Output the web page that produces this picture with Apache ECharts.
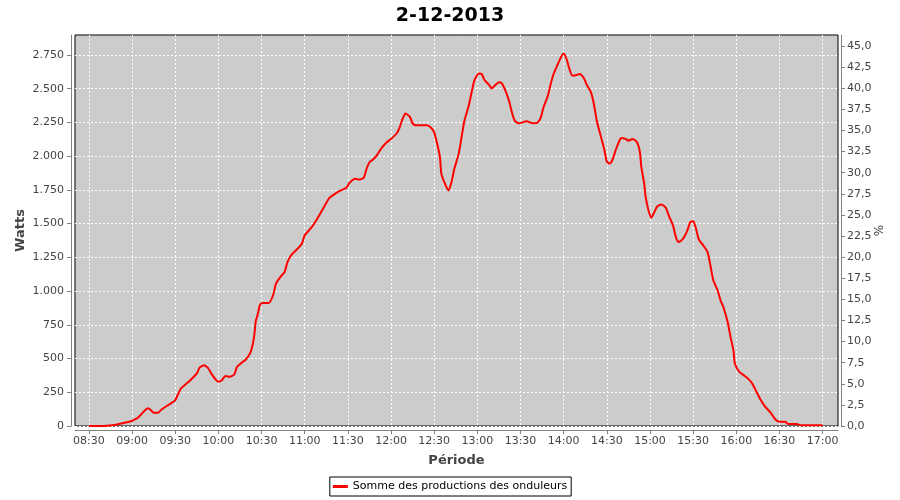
<!DOCTYPE html>
<html><head><meta charset="utf-8">
<script src="https://cdn.jsdelivr.net/npm/echarts@6/dist/echarts.min.js"></script>
<style>html,body{margin:0;padding:0;background:#fff}#c{width:900px;height:500px}</style>
</head><body><div id="c"></div>
<script>
const chartTitle = '2-12-2013';
const seriesName = 'Somme des productions des onduleurs';
const times = ['08:30','08:40','08:46','08:51','08:58','09:00','09:04','09:08','09:11','09:13','09:15','09:18','09:20','09:24','09:27','09:30','09:32','09:34','09:38','09:41','09:45','09:47','09:50','09:53','09:55','09:58','10:00','10:02','10:05','10:08','10:11','10:13','10:16','10:19','10:22','10:24','10:25','10:26','10:27','10:28','10:29','10:31','10:35','10:38','10:40','10:43','10:46','10:48','10:51','10:55','10:58','11:00','11:04','11:07','11:10','11:14','11:17','11:21','11:25','11:29','11:31','11:35','11:38','11:41','11:43','11:45','11:48','11:50','11:53','11:57','12:00','12:04','12:06','12:08','12:10','12:13','12:15','12:17','12:25','12:28','12:30','12:32','12:34','12:35','12:38','12:40','12:42','12:44','12:47','12:49','12:51','12:54','12:56','12:58','13:01','13:03','13:05','13:08','13:10','13:12','13:15','13:17','13:19','13:22','13:24','13:26','13:29','13:34','13:39','13:42','13:44','13:46','13:49','13:51','13:53','13:56','13:58','14:00','14:02','14:04','14:06','14:09','14:11','14:14','14:16','14:19','14:21','14:23','14:26','14:28','14:30','14:32','14:34','14:36','14:38','14:40','14:43','14:45','14:48','14:51','14:53','14:54','14:56','14:57','14:59','15:01','15:03','15:05','15:08','15:11','15:13','15:16','15:18','15:20','15:23','15:26','15:28','15:30','15:32','15:34','15:37','15:40','15:42','15:44','15:47','15:49','15:51','15:54','15:56','15:58','15:59','16:02','16:05','16:08','16:11','16:14','16:17','16:20','16:24','16:27','16:30','16:34','16:36','16:42','16:45','17:00'];
const watts = [0,0,5,15,32,39,61,106,131,118,98,98,118,148,168,192,237,279,316,345,390,434,451,427,390,345,328,335,370,365,382,439,468,493,538,612,680,780,815,860,900,912,912,969,1055,1104,1141,1215,1272,1314,1351,1413,1462,1507,1561,1635,1689,1721,1746,1766,1800,1832,1827,1840,1906,1955,1980,2004,2054,2103,2128,2170,2214,2276,2317,2293,2243,2229,2229,2209,2177,2095,1992,1869,1783,1746,1807,1906,2017,2140,2263,2374,2473,2564,2613,2609,2564,2530,2502,2522,2547,2539,2498,2411,2325,2263,2243,2258,2243,2250,2283,2362,2448,2535,2609,2683,2732,2761,2720,2646,2596,2601,2609,2579,2530,2473,2387,2263,2140,2060,1960,1945,1975,2040,2095,2135,2128,2115,2128,2103,2029,1918,1795,1696,1598,1544,1585,1627,1642,1618,1561,1487,1400,1363,1388,1450,1511,1519,1462,1381,1339,1289,1190,1080,1006,932,882,771,660,562,464,402,377,353,316,254,192,143,98,50,32,32,15,15,5,5];
const xTickLabels = ['08:30','09:00','09:30','10:00','10:30','11:00','11:30','12:00','12:30','13:00','13:30','14:00','14:30','15:00','15:30','16:00','16:30','17:00'];
const wattTicks = [0,250,500,750,1000,1250,1500,1750,2000,2250,2500,2750];
const pctTicks = [0,2.5,5,7.5,10,12.5,15,17.5,20,22.5,25,27.5,30,32.5,35,37.5,40,42.5,45];

const FONT = 'DejaVu Sans';
const toMin = s => { const p = s.split(':'); return (+p[0]) * 60 + (+p[1]); };
const fmtTime = v => { const m = Math.round(v); const h = Math.floor(m / 60), mm = m % 60; return (h < 10 ? '0' : '') + h + ':' + (mm < 10 ? '0' : '') + mm; };
const fmtWatt = v => String(Math.round(v)).replace(/\B(?=(\d{3})+(?!\d))/g, '.');
const fmtPct = v => v.toFixed(1).replace('.', ',');
const xTickVals = xTickLabels.map(toMin);
const seriesData = times.map((t, i) => [toMin(t), watts[i]]);

const axisGray = '#808080';
const labelColor = '#444444';

const chart = echarts.init(document.getElementById('c'), null, { renderer: 'canvas' });
chart.setOption({
  animation: false,
  backgroundColor: '#ffffff',
  textStyle: { fontFamily: FONT },
  title: {
    text: chartTitle, left: 'center', top: 2,
    textStyle: { fontFamily: FONT, fontSize: 19, fontWeight: 'bold', color: '#000' }
  },
  legend: {
    data: [seriesName], left: 'center', top: 477,
    icon: 'rect', itemWidth: 15, itemHeight: 3,
    padding: [4, 4, 4, 3], borderColor: '#000', borderWidth: 1,
    textStyle: { fontFamily: FONT, fontSize: 11, color: '#000' }
  },
  grid: {
    left: 75, right: 62, top: 35, bottom: 74, show: true,
    backgroundColor: '#cccccc', borderColor: '#000', borderWidth: 1
  },
  xAxis: {
    type: 'value', min: 500.3, max: 1030.7, offset: 4,
    name: 'Période', nameLocation: 'middle', nameGap: 24,
    nameTextStyle: { fontFamily: FONT, fontSize: 13, fontWeight: 'bold', color: labelColor },
    axisLine: { show: true, onZero: false, lineStyle: { color: axisGray } },
    axisTick: { show: true, length: 4, customValues: xTickVals, lineStyle: { color: axisGray } },
    axisLabel: { customValues: xTickVals, formatter: fmtTime, fontFamily: FONT, fontSize: 11, color: labelColor, margin: 6 },
    splitLine: { show: true, lineStyle: { color: '#ffffff', width: 1, type: [2, 2] } }
  },
  yAxis: [{
    type: 'value', min: 0, max: 2898, position: 'left', offset: 4,
    name: 'Watts', nameLocation: 'middle', nameGap: 44, nameRotate: 90, nameMoveOverlap: false,
    nameTextStyle: { fontFamily: FONT, fontSize: 13, fontWeight: 'bold', color: labelColor },
    axisLine: { show: true, lineStyle: { color: axisGray } },
    axisTick: { show: true, length: 4, customValues: wattTicks, lineStyle: { color: axisGray } },
    axisLabel: { customValues: wattTicks, formatter: fmtWatt, fontFamily: FONT, fontSize: 11, color: labelColor, margin: 7 },
    splitLine: { show: true, lineStyle: { color: '#ffffff', width: 1, type: [2, 2] } }
  }, {
    type: 'value', min: 0, max: 46.3, position: 'right', offset: 3,
    name: '%', nameLocation: 'middle', nameGap: 33, nameRotate: 90, nameMoveOverlap: false,
    nameTextStyle: { fontFamily: FONT, fontSize: 12, color: labelColor },
    axisLine: { show: true, lineStyle: { color: axisGray } },
    axisTick: { show: true, length: 4, customValues: pctTicks, lineStyle: { color: axisGray } },
    axisLabel: { customValues: pctTicks, formatter: fmtPct, fontFamily: FONT, fontSize: 11, color: labelColor, margin: 6 },
    splitLine: { show: false }
  }],
  series: [{
    name: seriesName, type: 'line', data: seriesData,
    xAxisIndex: 0, yAxisIndex: 0,
    showSymbol: false, symbol: 'none', smooth: 0.2,
    lineStyle: { color: '#ff0000', width: 2 }, itemStyle: { color: '#ff0000' }
  }]
});
</script></body></html>
